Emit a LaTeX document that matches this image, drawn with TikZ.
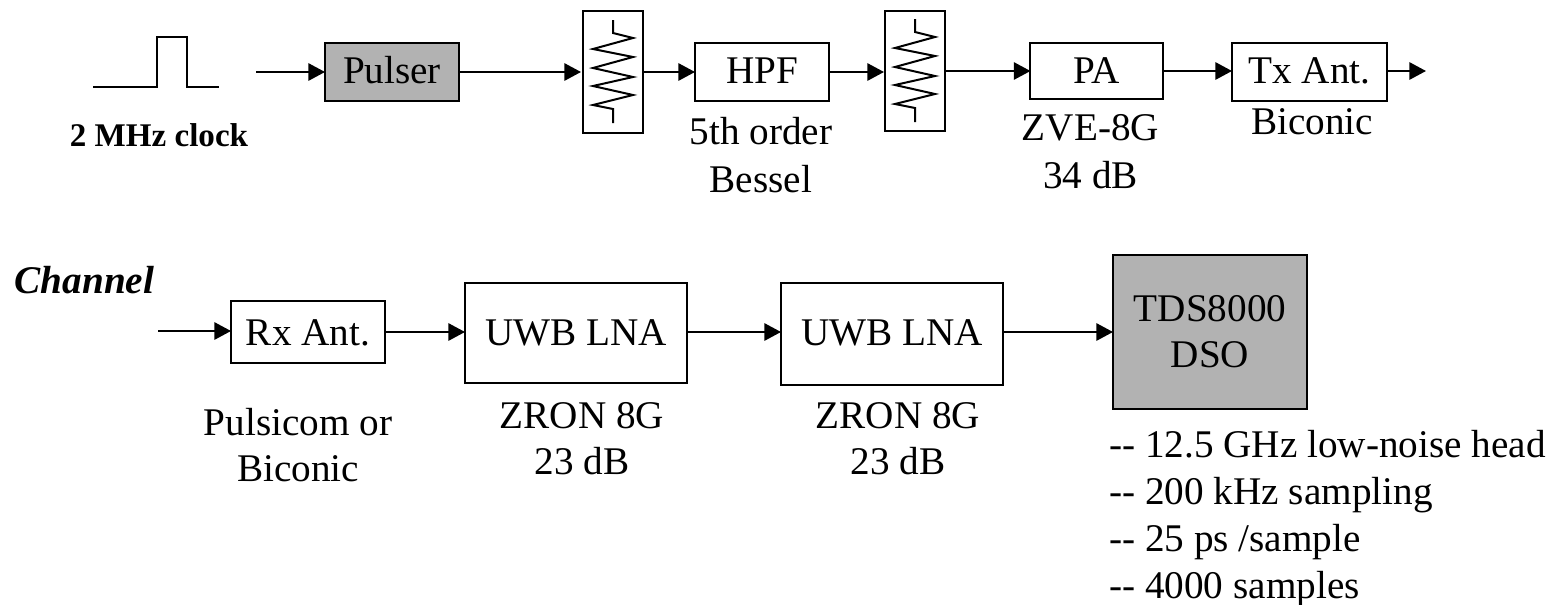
\documentclass[tikz,border=0pt]{standalone}
\usepackage{fontspec}
\setmainfont{Liberation Serif}
\usetikzlibrary{arrows.meta}
\tikzset{
  px/.style={x=0.75pt,y=-0.75pt},
  boxshape/.style={draw=black,line width=1.5pt,inner sep=0pt,align=center,outer sep=0pt},
  blockbox/.style={boxshape,font=\fontsize{29.4}{34.5}\selectfont,text height=19.5pt,text depth=3pt},
  grayfill/.style={fill=black!30},
  note/.style={inner sep=0pt,align=center,font=\fontsize{29.4}{36}\selectfont},
  link/.style={line width=1.5pt,-{Triangle[length=12.5pt,width=13pt]}},
  wire/.style={line width=1.5pt},
}
\begin{document}
\begin{tikzpicture}[px]
\useasboundingbox (0,0) rectangle (1554,604);
% top row
\draw[wire] (93,87) -- (157,87) -- (157,37) -- (187,37) -- (187,87) -- (219,87);
\coordinate (clkout) at (256,72);
\node[blockbox,grayfill,minimum width=100.5pt,minimum height=43.5pt] (pulser) at (392,72) {Pulser};
\node[boxshape,minimum width=45pt,minimum height=91.5pt] (r1) at (613,72) {};
\node[blockbox,minimum width=100.5pt,minimum height=43.5pt] (hpf) at (762,72) {HPF};
\node[boxshape,minimum width=45pt,minimum height=90pt] (r2) at (915,71) {};
\node[blockbox,text depth=1.5pt,minimum width=99.4pt,minimum height=42pt] (pa) at (1096.75,71) {PA};
\node[blockbox,minimum width=116.25pt,minimum height=43.5pt] (tx) at (1309.5,72) {Tx Ant.};
\coordinate (txout) at (1426,71);
\foreach \r in {r1,r2}{
  \draw[wire,shift={(\r.center)}] (0,-52) -- (0,-39) -- (20,-34) -- (-20,-23) -- (20,-15) -- (-20,-4) -- (20,5) -- (-20,14) -- (20,23) -- (-20,33) -- (0,37) -- (0,51);
}
\draw[link] (clkout) -- (clkout -| pulser.west);
\draw[link] (pulser.east) -- ([xshift=-1.5pt]pulser.east -| r1.west);
\draw[link] (r1.east) -- (r1.east -| hpf.west);
\draw[link] (hpf.east) -- ([xshift=-0.75pt]hpf.east -| r2.west);
\draw[link] (r2.east) -- (r2.east -| pa.west);
\draw[link] (pa.east) -- (pa.east -| tx.west);
\draw[link] (tx.east |- txout) -- (txout);
\node[inner sep=0pt,anchor=base,font=\fontsize{24.8}{29}\selectfont\bfseries] (clk) at (159,146) {2 MHz clock};
\node[note] (hpfn) at (761,155.5) {5th order\\Bessel};
\node[note] (pan) at (1090.5,152) {ZVE-8G\\34 dB};
\node[note,anchor=base] (txn) at (1312,134) {Biconic};
% bottom row
\node[inner sep=0pt,anchor=base,font=\fontsize{29.4}{34}\selectfont\bfseries\itshape] (chan) at (84.5,293) {Channel};
\coordinate (rxin) at (158,331);
\node[blockbox,text depth=0pt,minimum width=115.5pt,minimum height=46.5pt] (rx) at (308,332) {Rx Ant.};
\node[blockbox,text depth=1.5pt,minimum width=166.5pt,minimum height=75pt] (lna1) at (576,333) {UWB LNA};
\node[blockbox,minimum width=166.5pt,minimum height=76.5pt] (lna2) at (892,334) {UWB LNA};
\node[boxshape,grayfill,font=\fontsize{29.4}{34.5}\selectfont,minimum width=145.5pt,minimum height=115.5pt] (dso) at (1210,332) {TDS8000\\DSO};
\draw[link] (rxin) -- (rxin -| rx.west);
\draw[link] (rx.east) -- (rx.east -| lna1.west);
\draw[link] ([yshift=0.75pt]lna1.east) -- ([yshift=0.75pt]lna1.east -| lna2.west);
\draw[link] ([yshift=1.5pt]lna2.east) -- ([yshift=1.5pt]lna2.east -| dso.west);
\node[note,font=\fontsize{29.4}{34.5}\selectfont] (rxn) at (298,445) {Pulsicom or\\Biconic};
\node[note,font=\fontsize{29.4}{34.5}\selectfont] (l1n) at (582,439) {ZRON 8G\\23 dB};
\node[note,font=\fontsize{29.4}{34.5}\selectfont] (l2n) at (898,439) {ZRON 8G\\23 dB};
\node[note,align=left,anchor=north west,font=\fontsize{29.4}{35.25}\selectfont] (dson) at (1109,430) {-{}- 12.5 GHz low-noise head\\-{}- 200 kHz sampling\\-{}- 25 ps /sample\\-{}- 4000 samples};
\end{tikzpicture}
\end{document}
